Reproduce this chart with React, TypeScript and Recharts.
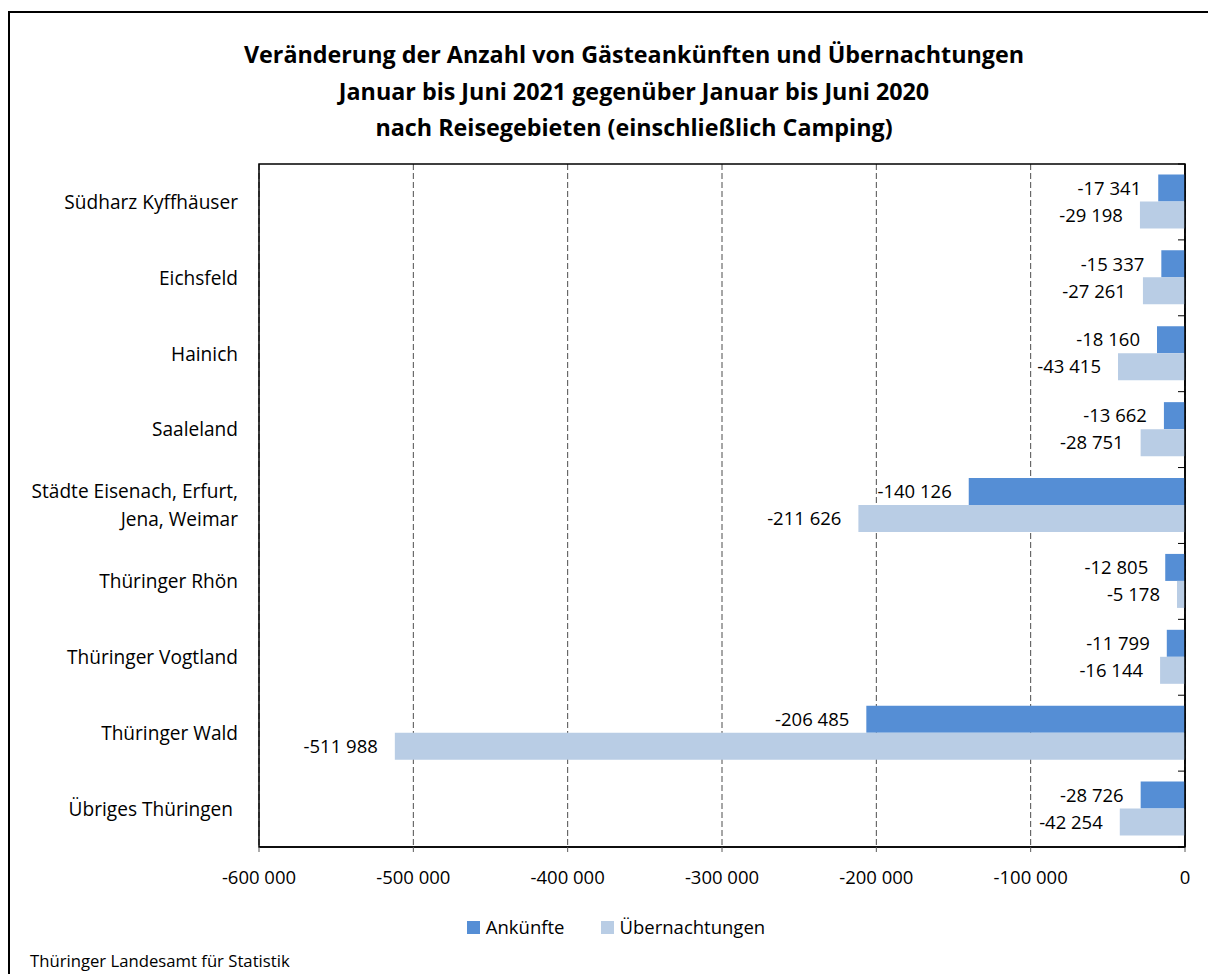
import React from "react";
import {
  BarChart,
  Bar,
  XAxis,
  YAxis,
  CartesianGrid,
  LabelList,
  Legend,
  ReferenceArea,
} from "recharts";

const categories = [
  "Südharz Kyffhäuser",
  "Eichsfeld",
  "Hainich",
  "Saaleland",
  "Städte Eisenach, Erfurt,\nJena, Weimar",
  "Thüringer Rhön",
  "Thüringer Vogtland",
  "Thüringer Wald",
  "Übriges Thüringen ",
];
const ankuenfte = [-17341, -15337, -18160, -13662, -140126, -12805, -11799, -206485, -28726];
const uebernachtungen = [-29198, -27261, -43415, -28751, -211626, -5178, -16144, -511988, -42254];
const xTicks = [-600000, -500000, -400000, -300000, -200000, -100000, 0];

const titleLines = [
  "Veränderung der Anzahl von Gästeankünften und Übernachtungen",
  "Januar bis Juni 2021 gegenüber Januar bis Juni 2020",
  "nach Reisegebieten (einschließlich Camping)",
];
const footer = "Thüringer Landesamt für Statistik";

const DARK = "#558ED5";
const LIGHT = "#B9CDE5";
const FONT = "'Open Sans', 'Noto Sans', sans-serif";
const FS_CAT = 19.1;
const FS_NUM = 18.5;

const data = categories.map((name, i) => ({
  name,
  ankuenfte: ankuenfte[i],
  uebernachtungen: uebernachtungen[i],
}));

const fmt = (v: number) => {
  const s = Math.abs(Math.round(v))
    .toString()
    .replace(/\B(?=(\d{3})+(?!\d))/g, " ");
  return (v < 0 ? "-" : "") + s;
};

const CategoryTick = (props: any) => {
  const { x, y, payload } = props;
  const lines = String(payload.value).split("\n");
  const lh = 28;
  const start = -((lines.length - 1) * lh) / 2;
  return (
    <text
      x={x}
      y={y}
      textAnchor="end"
      fontFamily={FONT}
      fontSize={FS_CAT}
      fill="#000"
      style={{ whiteSpace: "pre" }}
    >
      {lines.map((l, i) => (
        <tspan key={i} x={x} y={y + start + i * lh} dy="0.36em">
          {l}
        </tspan>
      ))}
    </text>
  );
};

// Draws category-boundary tick marks on the right axis (at band edges)
const BoundaryTick = (props: any) => {
  const { x, y, payload, index, visibleTicksCount } = props;
  const half = payload && payload.offset ? payload.offset : 38;
  const top = y - half;
  const bottom = y + half;
  const isLast = visibleTicksCount !== undefined && index === visibleTicksCount - 1;
  return (
    <g>
      <line x1={x - 7} x2={x} y1={top} y2={top} stroke="#000" strokeWidth={1} />
      {isLast && <line x1={x - 7} x2={x} y1={bottom} y2={bottom} stroke="#000" strokeWidth={1} />}
    </g>
  );
};

const BarValueLabel = (props: any) => {
  const vb = props.viewBox && props.viewBox.width !== undefined ? props.viewBox : props;
  const x = Number(vb.x ?? props.x);
  const w = Number(vb.width ?? props.width);
  const y = Number(vb.y ?? props.y);
  const h = Number(vb.height ?? props.height);
  const left = Math.min(x, x + w);
  return (
    <text
      x={left - 17}
      y={y + h / 2}
      dy="0.36em"
      textAnchor="end"
      fontFamily={FONT}
      fontSize={FS_NUM}
      fill="#000"
    >
      {fmt(Number(props.value))}
    </text>
  );
};

const LegendContent = (props: any) => {
  const payload = props.payload || [];
  return (
    <div
      style={{
        display: "flex",
        justifyContent: "center",
        alignItems: "center",
        height: 24,
        paddingLeft: 38,
        fontFamily: FONT,
        fontSize: FS_NUM,
        color: "#000",
      }}
    >
      {payload.map((p: any, i: number) => (
        <div
          key={i}
          style={{
            display: "flex",
            alignItems: "center",
            marginRight: i < payload.length - 1 ? 36 : 0,
          }}
        >
          <span
            style={{
              display: "inline-block",
              width: 13,
              height: 13,
              background: p.color,
              marginRight: 6,
            }}
          />
          <span style={{ lineHeight: "24px" }}>{p.value}</span>
        </div>
      ))}
    </div>
  );
};

export default function App() {
  return (
    <div
      style={{
        position: "fixed",
        top: 0,
        left: 0,
        width: 1208,
        height: 974,
        overflow: "hidden",
        background: "#fff",
        fontFamily: FONT,
      }}
    >
      <div
        style={{
          position: "absolute",
          top: 11,
          left: 8,
          width: 1400,
          height: 1200,
          borderTop: "2px solid #000",
          borderLeft: "2px solid #000",
          boxSizing: "border-box",
        }}
      />
      <div
        style={{
          position: "absolute",
          top: 36,
          left: 8,
          width: 1252,
          textAlign: "center",
          fontFamily: FONT,
          fontWeight: 700,
          fontSize: 23.3,
          lineHeight: "36.5px",
          color: "#000",
        }}
      >
        {titleLines.map((t, i) => (
          <div key={i}>{t}</div>
        ))}
      </div>
      <div style={{ position: "absolute", top: 8, left: 8 }}>
        <BarChart
          width={1200}
          height={966}
          data={data}
          layout="vertical"
          margin={{ top: 156, right: 22, bottom: 35, left: 0 }}
          barCategoryGap="13.8%"
          barGap={0}
        >
          <CartesianGrid
            horizontal={false}
            vertical={true}
            stroke="#4d4d4d"
            strokeDasharray="6 3"
          />
          <ReferenceArea
            x1={-600000}
            x2={0}
            fill="none"
            fillOpacity={0}
            stroke="#000"
            strokeWidth={1.5}
            ifOverflow="visible"
          />
          <XAxis
            type="number"
            domain={[-600000, 0]}
            ticks={xTicks}
            tickFormatter={fmt}
            allowDataOverflow
            height={68}
            axisLine={{ stroke: "#000", strokeWidth: 1.5 }}
            tickLine={{ stroke: "#595959" }}
            tickSize={5}
            tickMargin={19}
            tick={{ fontFamily: FONT, fontSize: FS_NUM, fill: "#000" }}
          />
          <YAxis
            type="category"
            dataKey="name"
            width={251}
            axisLine={false}
            tickLine={false}
            tickSize={0}
            tickMargin={21}
            tick={<CategoryTick />}
            interval={0}
          />
          <YAxis
            yAxisId="r"
            type="category"
            dataKey="name"
            orientation="right"
            width={1}
            tickSize={0}
            tickMargin={0}
            tickLine={false}
            tick={<BoundaryTick />}
            interval={0}
            axisLine={{ stroke: "#000", strokeWidth: 1.5 }}
          />
          <Legend verticalAlign="bottom" align="center" content={<LegendContent />} />
          <Bar dataKey="ankuenfte" name="Ankünfte" fill={DARK} isAnimationActive={false}>
            <LabelList dataKey="ankuenfte" content={<BarValueLabel />} />
          </Bar>
          <Bar
            dataKey="uebernachtungen"
            name="Übernachtungen"
            fill={LIGHT}
            isAnimationActive={false}
          >
            <LabelList dataKey="uebernachtungen" content={<BarValueLabel />} />
          </Bar>
        </BarChart>
      </div>
      <div
        style={{
          position: "absolute",
          top: 949,
          left: 30,
          fontFamily: FONT,
          fontSize: 16.7,
          lineHeight: "24px",
          color: "#000",
          whiteSpace: "nowrap",
        }}
      >
        {footer}
      </div>
    </div>
  );
}
